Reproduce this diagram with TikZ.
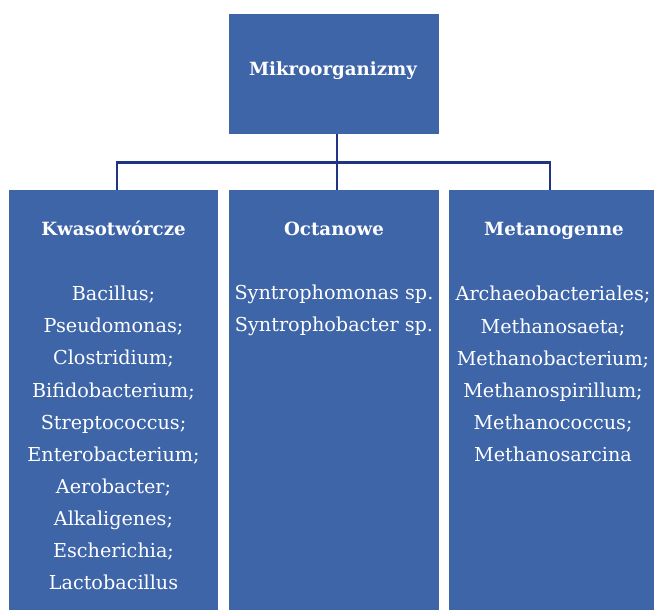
\documentclass[tikz,border=0pt]{standalone}
\usepackage{fontspec}
\setmainfont{DejaVu Serif}
\begin{document}
\begin{tikzpicture}[x=1pt,y=-1pt,
  box/.style={fill=boxblue,draw=none,inner sep=0pt,anchor=north west},
  head/.style={text=white,font=\fontsize{18.2}{21}\selectfont\bfseries,inner sep=0pt,anchor=base},
  items/.style={text=white,font=\fontsize{19.2}{32.1}\selectfont,align=center,inner sep=0pt,anchor=center},
  link/.style={draw=linkblue,line width=2.2pt}]
\definecolor{boxblue}{HTML}{3E65A8}
\definecolor{linkblue}{HTML}{1F3584}
\useasboundingbox (0,0) rectangle (654,610);

% boxes
\node[box,minimum width=210pt,minimum height=120pt] (top) at (229,14) {};
\node[box,minimum width=209pt,minimum height=420pt] (left) at (9,190) {};
\node[box,minimum width=210pt,minimum height=420pt] (mid) at (229,190) {};
\node[box,minimum width=205pt,minimum height=420pt] (right) at (449,190) {};

% connectors
\coordinate (bus) at (337,162.5);
\draw[link] (337,134) -- (bus);
\draw[link] (337,190) -- (bus);
\draw[link] (117,190) |- (bus) -| (550,190);

% labels
\node[head] (tt) at (333,76) {Mikroorganizmy};
\node[head] (lh) at (113.5,235) {Kwasotwórcze};
\node[head] (mh) at (334,235) {Octanowe};
\node[head] (rh) at (554,235) {Metanogenne};

\node[items] (li) at (113.5,438) {Bacillus;\\Pseudomonas;\\Clostridium;\\Bifidobacterium;\\Streptococcus;\\Enterobacterium;\\Aerobacter;\\Alkaligenes;\\Escherichia;\\Lactobacillus};
\node[items] (mi) at (334,310) {Syntrophomonas sp.\\Syntrophobacter sp.};
\node[items] (ri) at (553,374) {Archaeobacteriales;\\Methanosaeta;\\Methanobacterium;\\Methanospirillum;\\Methanococcus;\\Methanosarcina};
\end{tikzpicture}
\end{document}
